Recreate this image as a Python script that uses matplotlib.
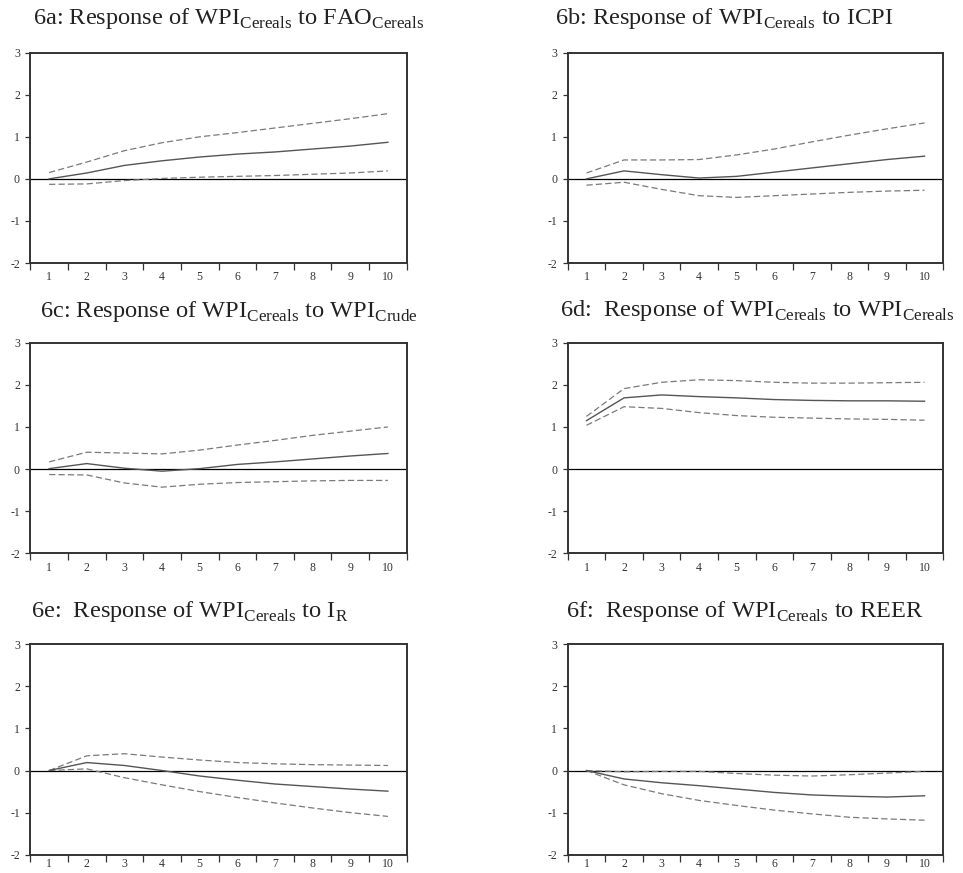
import matplotlib
matplotlib.use("Agg")
import matplotlib.pyplot as plt
from matplotlib.ticker import FixedLocator

plt.rcParams["font.family"] = "Liberation Serif"
plt.rcParams["mathtext.fontset"] = "custom"
plt.rcParams["mathtext.rm"] = "Liberation Serif"
plt.rcParams["axes.unicode_minus"] = False

periods = [1, 2, 3, 4, 5, 6, 7, 8, 9, 10]

titles = [
    r"6a: Response of WPI$_{\rm Cereals}$ to FAO$_{\rm Cereals}$",
    r"6b: Response of WPI$_{\rm Cereals}$ to ICPI",
    r"6c: Response of WPI$_{\rm Cereals}$ to WPI$_{\rm Crude}$",
    r"6d:  Response of WPI$_{\rm Cereals}$ to WPI$_{\rm Cereals}$",
    r"6e:  Response of WPI$_{\rm Cereals}$ to I$_{\rm R}$",
    r"6f:  Response of WPI$_{\rm Cereals}$ to REER",
]

# impulse responses (solid) and +/- 2 s.e. bands (dashed)
resp_a = [0.0, 0.14, 0.32, 0.43, 0.52, 0.59, 0.64, 0.71, 0.78, 0.87]
upper_a = [0.15, 0.40, 0.67, 0.86, 1.00, 1.10, 1.21, 1.32, 1.43, 1.55]
lower_a = [-0.13, -0.12, -0.04, 0.01, 0.04, 0.06, 0.08, 0.11, 0.14, 0.19]

resp_b = [0.0, 0.19, 0.10, 0.02, 0.06, 0.16, 0.26, 0.36, 0.46, 0.54]
upper_b = [0.14, 0.45, 0.45, 0.46, 0.57, 0.71, 0.88, 1.04, 1.19, 1.33]
lower_b = [-0.15, -0.08, -0.25, -0.40, -0.44, -0.40, -0.36, -0.32, -0.29, -0.27]

resp_c = [0.01, 0.13, 0.02, -0.05, 0.01, 0.11, 0.17, 0.24, 0.31, 0.37]
upper_c = [0.17, 0.40, 0.38, 0.36, 0.45, 0.57, 0.68, 0.80, 0.90, 1.00]
lower_c = [-0.13, -0.14, -0.33, -0.43, -0.36, -0.32, -0.30, -0.28, -0.27, -0.27]

resp_d = [1.15, 1.69, 1.76, 1.72, 1.69, 1.65, 1.63, 1.62, 1.62, 1.61]
upper_d = [1.25, 1.91, 2.06, 2.12, 2.10, 2.06, 2.04, 2.04, 2.05, 2.06]
lower_d = [1.04, 1.48, 1.44, 1.34, 1.27, 1.23, 1.21, 1.19, 1.18, 1.16]

resp_e = [0.0, 0.19, 0.12, 0.0, -0.13, -0.23, -0.32, -0.38, -0.44, -0.49]
upper_e = [0.0, 0.35, 0.40, 0.32, 0.25, 0.19, 0.16, 0.14, 0.13, 0.12]
lower_e = [0.0, 0.04, -0.17, -0.34, -0.50, -0.64, -0.77, -0.89, -1.00, -1.09]

resp_f = [0.0, -0.20, -0.29, -0.36, -0.44, -0.52, -0.58, -0.61, -0.63, -0.60]
upper_f = [0.0, -0.03, -0.02, -0.02, -0.07, -0.11, -0.13, -0.10, -0.06, -0.02]
lower_f = [0.0, -0.34, -0.55, -0.71, -0.83, -0.94, -1.03, -1.11, -1.15, -1.18]

panels = [
    (resp_a, upper_a, lower_a),
    (resp_b, upper_b, lower_b),
    (resp_c, upper_c, lower_c),
    (resp_d, upper_d, lower_d),
    (resp_e, upper_e, lower_e),
    (resp_f, upper_f, lower_f),
]

W, H = 963, 873
fig = plt.figure(figsize=(W / 100, H / 100), dpi=100)

# axes boxes in pixels: left, right, top, bottom
boxes = [
    (30.3, 406.7, 52.7, 263.0),
    (567.7, 943.3, 52.7, 263.0),
    (30.3, 406.7, 342.7, 553.3),
    (567.7, 943.3, 342.7, 553.3),
    (30.3, 406.7, 644.3, 854.7),
    (567.7, 943.3, 644.3, 854.7),
]
# title left x and baseline y in pixels
title_pos = [(33, 24), (555, 24), (40, 317), (560, 316), (31, 617), (566, 617)]

for i, (resp, upper, lower) in enumerate(panels):
    l, r, t, b = boxes[i]
    ax = fig.add_axes([l / W, 1 - b / H, (r - l) / W, (b - t) / H])
    ax.axhline(0, color="black", lw=0.9)
    ax.plot(periods, upper, color="#7a7a7a", lw=0.9, ls=(0, (5, 2.5)))
    ax.plot(periods, lower, color="#7a7a7a", lw=0.9, ls=(0, (5, 2.5)))
    ax.plot(periods, resp, color="#555555", lw=1.0)
    ax.set_xlim(0.5, 10.5)
    ax.set_ylim(-2, 3)
    ax.set_xticks(periods)
    ax.xaxis.set_minor_locator(FixedLocator([p - 0.5 for p in periods] + [10.5]))
    ax.set_yticks([-2, -1, 0, 1, 2, 3])
    xpad = 2.5 if i >= 4 else 6
    ax.tick_params(axis="x", which="major", length=0, pad=xpad, labelsize=8.5, colors="#333333")
    ax.tick_params(axis="x", which="minor", length=5, width=0.9, direction="out", color="#333333")
    ax.tick_params(axis="y", length=3.5, width=0.9, direction="out", pad=4, labelsize=8.5, colors="#333333")
    for s in ax.spines.values():
        s.set_linewidth(1.4)
        s.set_color("#333333")
    tx, ty = title_pos[i]
    fig.text(tx / W, 1 - ty / H, titles[i], fontsize=17.6, va="baseline", ha="left", color="#222222")

fig.savefig("out.png", dpi=100)
